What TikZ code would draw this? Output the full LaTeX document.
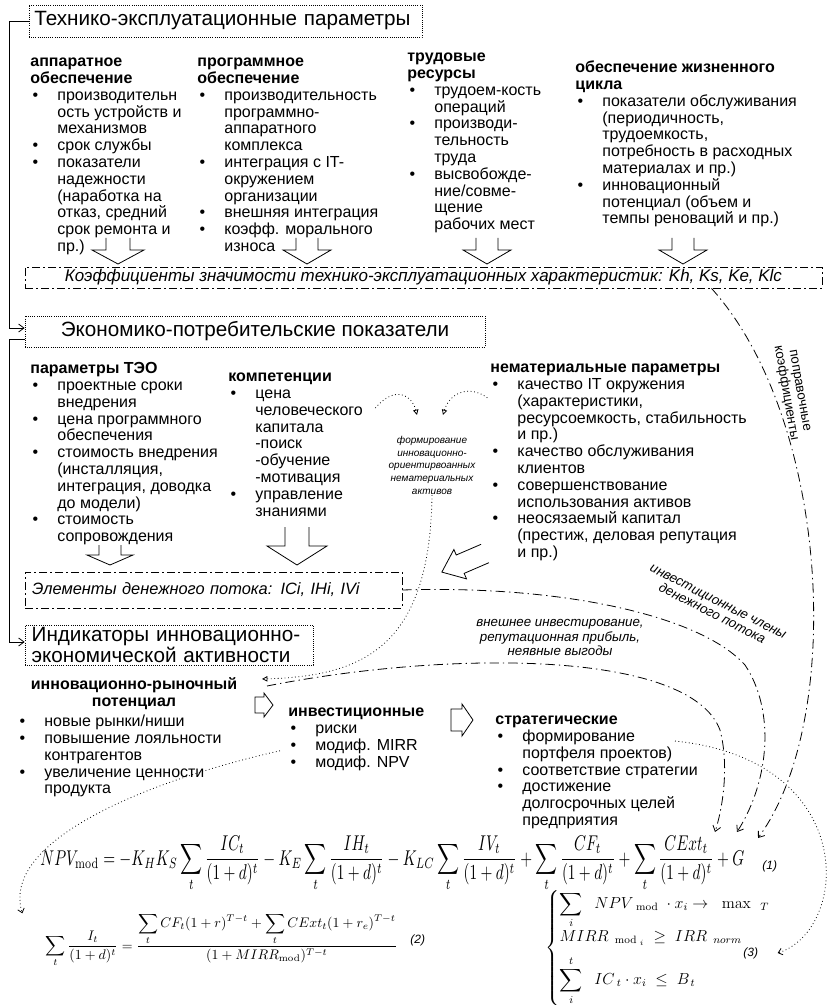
\documentclass[tikz,border=0pt]{standalone}
\usepackage[no-math]{fontspec}
\setmainfont{Liberation Sans}
\usepackage{amsmath}
\usepackage{graphicx}
\usetikzlibrary{arrows.meta, positioning}

\newcommand{\bl}{\makebox[20.25pt][l]{\hspace{1.6pt}\textbullet}}
\newcommand{\ind}{\hspace*{20.25pt}}
\newcommand{\hollowarrow}[7]{%
  \begin{scope}[shift={(#1,#2)}, rotate=#3]
    \draw (-#4,0) -- (-#4,#6) -- (-#5,#6) -- (0,#7) -- (#5,#6) -- (#4,#6) -- (#4,0);
  \end{scope}}

\begin{document}
\begin{tikzpicture}[x=0.75pt, y=-0.75pt, line width=0.6pt,
  every node/.style={inner sep=0pt},
  title/.style={draw, densely dotted, inner sep=4pt, font=\fontsize{15.5}{15.5}\selectfont},
  band/.style={draw, dash pattern=on 6pt off 2.5pt on 1pt off 2.5pt, font=\itshape\fontsize{12.7}{15}\selectfont},
  col/.style={anchor=north west, align=left, font=\fontsize{12}{12.6}\selectfont},
  note/.style={align=center, font=\itshape\fontsize{10}{10}\selectfont},
  tag/.style={font=\itshape\fontsize{9}{9}\selectfont},
  arr/.style={-{Straight Barb[length=4pt,width=6pt]}},
  flow/.style={dash pattern=on 7pt off 3pt on 1pt off 3pt, -{Straight Barb[length=4pt,width=6pt]}},
  hint/.style={dotted, -{Triangle[open,length=4pt,width=4pt]}}
]
\useasboundingbox (0,0) rectangle (830,1005);

% technical parameters
\node[title, minimum width=294.75pt, minimum height=24pt, text width=286.75pt, align=left] (tech) at (225.5,21) {Технико-эксплуатационные параметры};
\node[col] (hw) at (30,54.5) {\strut\textbf{аппаратное}\\\textbf{обеспечение}\\\bl производительн\\\ind ость устройств и\\\ind механизмов\\\bl срок службы\\\bl показатели\\\ind надежности\\\ind (наработка на\\\ind отказ, средний\\\ind срок ремонта и\\\ind пр.)};
\node[col] (sw) at (197,54.5) {\strut\textbf{программное}\\\textbf{обеспечение}\\\bl производительность\\\ind программно-\\\ind аппаратного\\\ind комплекса\\\bl интеграция с IT-\\\ind окружением\\\ind организации\\\bl внешняя интеграция\\\bl коэфф. морального\\\ind износа};
\node[col] (labor) at (407,49.5) {\strut\textbf{трудовые}\\\textbf{ресурсы}\\\bl трудоем-кость\\\ind операций\\\bl производи-\\\ind тельность\\\ind труда\\\bl высвобожде-\\\ind ние/совме-\\\ind щение\\\ind рабочих мест};
\node[col] (life) at (575,60.5) {\strut\textbf{обеспечение жизненного}\\\textbf{цикла}\\\bl показатели обслуживания\\\ind (периодичность,\\\ind трудоемкость,\\\ind потребность в расходных\\\ind материалах и пр.)\\\bl инновационный\\\ind потенциал (объем и\\\ind темпы реноваций и пр.)};
\hollowarrow{118}{238}{0}{12}{26}{12}{26}
\hollowarrow{307}{238}{0}{11}{24}{12}{26}
\hollowarrow{487}{238}{0}{11}{24}{12}{26}
\hollowarrow{683}{238}{0}{11}{24}{12}{26}
\node[band, minimum width=597.75pt, minimum height=15.75pt] (coef) at (423.5,277.5) {Коэффициенты значимости технико-эксплуатационных характеристик: Kh, Ks, Ke, Klc};

% economic indicators
\node[title, minimum width=345pt, minimum height=23.25pt] (econ) at (255,331.5) {Экономико-потребительские показатели};
\node[col] (teo) at (30,361.5) {\strut\textbf{параметры ТЭО}\\\bl проектные сроки\\\ind внедрения\\\bl цена программного\\\ind обеспечения\\\bl стоимость внедрения\\\ind (инсталляция,\\\ind интеграция, доводка\\\ind до модели)\\\bl стоимость\\\ind сопровождения};
\node[col] (comp) at (228,369.5) {\strut\textbf{компетенции}\\\bl цена\\\ind человеческого\\\ind капитала\\\ind -поиск\\\ind -обучение\\\ind -мотивация\\\bl управление\\\ind знаниями};
\node[col] (intang) at (490,360.5) {\strut\textbf{нематериальные параметры}\\\bl качество IT окружения\\\ind (характеристики,\\\ind ресурсоемкость, стабильность\\\ind и пр.)\\\bl качество обслуживания\\\ind клиентов\\\bl совершенствование\\\ind использования активов\\\bl неосязаемый капитал\\\ind (престиж, деловая репутация\\\ind и пр.)};
\node[note, font=\itshape\fontsize{7.5}{9.6}\selectfont, anchor=north] (form) at (432,434) {\strut формирование\\инновационно-\\ориентирвоанных\\нематериальных\\активов};
\node[align=center, font=\fontsize{10}{10.5}\selectfont, rotate=-80] (corr) at (792,392) {поправочные\\коэффициенты};
\hollowarrow{110}{545}{0}{11}{23}{10}{20}
\hollowarrow{297}{527}{0}{12}{30}{19}{38}
\hollowarrow{485}{553.5}{-66.7}{10}{16}{27}{47}
\node[band, font=\itshape\fontsize{12.3}{14}\selectfont, minimum width=282.75pt, minimum height=27pt, inner xsep=5.25pt, text width=272.25pt, align=left] (elem) at (213.5,590) {Элементы денежного потока: ICi, IHi, IVi};

% innovation indicators
\node[title, minimum width=216pt, minimum height=30pt, inner sep=0pt, inner xsep=5pt, text width=206pt, align=left] (indic) at (169,645) {Индикаторы инновационно-\\экономической активности};
\draw[arr] (tech.west) -- ++(-19,0) |- ([yshift=2.6pt]econ.west);
\draw[arr] ([yshift=-5.6pt]econ.west) -- ++(-15,0) |- ([yshift=2.25pt]indic.west);
\node[anchor=north, align=center, font=\bfseries\fontsize{12}{12.6}\selectfont] (markethead) at (134,677.5) {\strut инновационно-рыночный\\потенциал};
\node[col] (market) at (17,714.5) {\strut\bl новые рынки/ниши\\\bl повышение лояльности\\\ind контрагентов\\\bl увеличение ценности\\\ind продукта};
\draw (255,697) -- (264,697) -- (264,693) -- (273,705) -- (264,717) -- (264,713) -- (255,713) -- cycle;
\node[col] (invest) at (288,704.5) {\strut\textbf{инвестиционные}\\\bl риски\\\bl модиф. MIRR\\\bl модиф. NPV};
\draw (451,709) -- (462,709) -- (462,704) -- (473,720) -- (462,736) -- (462,731) -- (451,731) -- cycle;
\node[col] (strat) at (495,712.5) {\strut\textbf{стратегические}\\\bl формирование\\\ind портфеля проектов)\\\bl соответствие стратегии\\\bl достижение\\\ind долгосрочных целей\\\ind предприятия};
\node[note, anchor=north] (extinv) at (560,617) {\strut внешнее инвестирование,\\репутационная прибыль,\\неявные выгоды};
\node[note, rotate=-27] (cfterm) at (715,608) {инвестиционные члены\\денежного потока};

% formulas
\node[anchor=west] (npv) at (40,864) {\scalebox{1}[1.4]{\resizebox{528pt}{!}{$\displaystyle NPV_{\mathrm{mod}} = -K_H K_S \sum_t \frac{IC_t}{(1+d)^t} - K_E \sum_t \frac{IH_t}{(1+d)^t} - K_{LC} \sum_t \frac{IV_t}{(1+d)^t} + \sum_t \frac{CF_t}{(1+d)^t} + \sum_t \frac{CExt_t}{(1+d)^t} + G$}}};
\node[tag, anchor=west] (n1) at (762,866) {(1)};
\node[anchor=west] (mirr) at (45,940) {\resizebox{264pt}{!}{$\displaystyle \sum_t \frac{I_t}{(1+d)^t} = \frac{\displaystyle\sum_t CF_t(1+r)^{T-t}+\sum_t CExt_t(1+r_e)^{T-t}}{(1+MIRR_{\mathrm{mod}})^{T-t}}$}};
\node[tag, anchor=west] (n2) at (410,940) {(2)};
\node[anchor=west, font=\fontsize{11.5}{14}\selectfont] (sys) at (545,948) {$\left\{\begin{array}{@{}l@{}}
  \displaystyle\sum_i\;\; NPV_{\;\;\mathrm{mod}}\;\cdot x_i \to\;\; \mathrm{max}_{\;\;\;T}\\[7pt]
  MIRR_{\;\;\mathrm{mod}\;_i} \;\ge\; IRR_{\;\;norm}\\[7pt]
  \displaystyle\sum_i^t\;\; IC_{\;t}\cdot x_i \;\le\; B_{\,t}
  \end{array}\right.$};
\node[tag, anchor=west] (n3) at (743,953) {(3)};

% links
\coordinate (gA) at (715,832);
\coordinate (gB) at (737,832);
\coordinate (gC) at (758,838);
\coordinate (mkin) at (262,679);
\coordinate (mkout) at (267,686);
\draw[flow] ([xshift=216pt]coef.south) .. controls (830,420) and (845,720) .. (gC);
\draw[flow] (elem.east) .. controls (560,585) and (700,615) .. (745,665) .. controls (775,710) and (770,780) .. (gB);
\draw[flow] (mkout) .. controls (450,650) and (690,650) .. (720,730) .. controls (728,760) and (725,800) .. (gA);
\draw[hint] ([shift={(9pt,-28.9pt)}]comp.north east) .. controls (395,385) and (412,395) .. ([shift={(-11.25pt,14.25pt)}]form.north);
\draw[hint] ([shift={(-2pt,-28pt)}]intang.north west) .. controls (470,385) and (450,392) .. ([shift={(8.25pt,14.25pt)}]form.north);
\draw[hint] (form.south) .. controls (430,650) and (360,676) .. (mkin);
\draw[dotted, -{Straight Barb[length=3pt,width=5pt]}] ([shift={(-6pt,15pt)}]invest.south west) .. controls (150,780) and (0,840) .. ([shift={(-17pt,20pt)}]mirr.west);
\draw[dotted, -{Straight Barb[length=3pt,width=5pt]}] ([shift={(135pt,-21.4pt)}]strat.north west) .. controls (860,760) and (850,930) .. ([xshift=26pt]n3.west);
\end{tikzpicture}
\end{document}
